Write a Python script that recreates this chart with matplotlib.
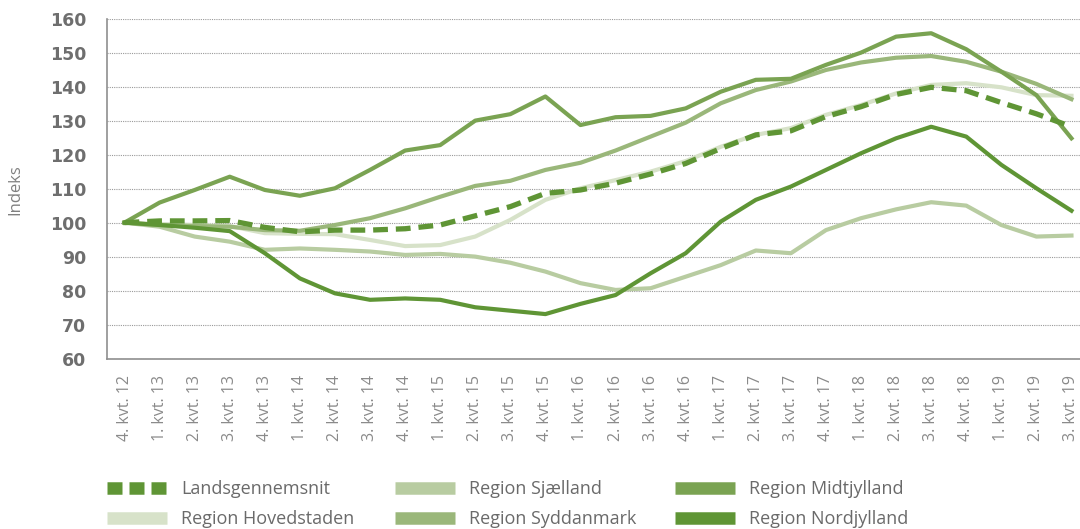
import matplotlib
matplotlib.use("Agg")
import matplotlib.pyplot as plt
from matplotlib.lines import Line2D

quarters = ["4. kvt. 12",
            "1. kvt. 13", "2. kvt. 13", "3. kvt. 13", "4. kvt. 13",
            "1. kvt. 14", "2. kvt. 14", "3. kvt. 14", "4. kvt. 14",
            "1. kvt. 15", "2. kvt. 15", "3. kvt. 15", "4. kvt. 15",
            "1. kvt. 16", "2. kvt. 16", "3. kvt. 16", "4. kvt. 16",
            "1. kvt. 17", "2. kvt. 17", "3. kvt. 17", "4. kvt. 17",
            "1. kvt. 18", "2. kvt. 18", "3. kvt. 18", "4. kvt. 18",
            "1. kvt. 19", "2. kvt. 19", "3. kvt. 19"]

landsgennemsnit = [100.2, 100.7, 100.7, 100.8, 98.8, 97.5, 98.0, 98.0, 98.4, 99.5,
                   102.2, 104.9, 108.8, 109.8, 111.8, 114.5, 117.6, 122.0, 126.0, 127.2,
                   131.4, 134.3, 137.9, 140.0, 139.0, 135.5, 132.2, 128.4]
hovedstaden = [100.2, 99.8, 99.5, 99.2, 97.1, 96.9, 96.8, 95.1, 93.3, 93.6,
               96.1, 101.0, 106.9, 110.3, 112.7, 115.2, 118.3, 122.5, 126.0, 128.0,
               131.9, 134.8, 138.2, 140.7, 141.2, 140.0, 137.7, 137.5]
sjaelland = [100.2, 99.0, 96.1, 94.6, 92.2, 92.6, 92.2, 91.7, 90.7, 91.0,
             90.2, 88.4, 85.8, 82.4, 80.4, 80.9, 84.3, 87.7, 92.0, 91.2,
             98.0, 101.5, 104.1, 106.2, 105.2, 99.5, 96.1, 96.4]
syddanmark = [100.2, 99.5, 99.2, 99.0, 98.0, 97.8, 99.5, 101.5, 104.4, 107.8,
              111.0, 112.5, 115.7, 117.8, 121.4, 125.5, 129.6, 135.3, 139.2, 141.7,
              145.1, 147.3, 148.7, 149.2, 147.5, 144.6, 141.0, 136.5]
midtjylland = [100.2, 106.1, 109.8, 113.7, 109.8, 108.1, 110.3, 115.7, 121.4, 123.0,
               130.2, 132.1, 137.3, 128.9, 131.2, 131.6, 133.8, 138.7, 142.2, 142.5,
               146.6, 150.2, 154.9, 155.9, 151.2, 144.6, 137.7, 125.0]
nordjylland = [100.2, 99.5, 98.7, 97.7, 91.2, 83.8, 79.4, 77.5, 77.9, 77.5,
               75.3, 74.3, 73.3, 76.3, 78.9, 85.3, 91.2, 100.5, 106.9, 110.8,
               115.7, 120.6, 125.0, 128.4, 125.5, 117.2, 110.3, 103.7]

yticks = [60, 70, 80, 90, 100, 110, 120, 130, 140, 150, 160]

c_lands = "#5f9535"
c_hoved = "#d7e2c9"
c_sjael = "#b8cca1"
c_sydd = "#9ab77a"
c_midt = "#7aa352"
c_nord = "#5f9535"

fig = plt.figure(figsize=(10.8, 5.29), dpi=100)
W, H = 1080, 529
left, right = 107, 1089
top, bottom = 19.3, 359.3
ax = fig.add_axes([left / W, 1 - bottom / H, (right - left) / W, (bottom - top) / H])

x = list(range(len(quarters)))
lw = 3.0
ax.plot(x, sjaelland, color=c_sjael, lw=lw, zorder=3)
ax.plot(x, hovedstaden, color=c_hoved, lw=lw, zorder=3)
ax.plot(x, syddanmark, color=c_sydd, lw=lw, zorder=3)
ax.plot(x, midtjylland, color=c_midt, lw=lw, zorder=3)
ax.plot(x, nordjylland, color=c_nord, lw=lw, zorder=3)
ax.plot(x, landsgennemsnit, color=c_lands, lw=3.8, dashes=(2.8, 1.5), dash_capstyle="butt", zorder=4)

ax.set_xlim(-0.5, len(quarters) - 0.5)
ax.set_ylim(60, 160)
ax.set_yticks(yticks)
ax.set_xticks(x)
ax.set_xticklabels(quarters, rotation=90, family="Open Sans", fontsize=11.5, color="#8a8a8a")
for lab in ax.get_yticklabels():
    lab.set_fontweight("bold")
    lab.set_fontsize(12.5)
    lab.set_color("#6e6e6e")
ax.tick_params(axis="both", length=0)
ax.tick_params(axis="y", pad=15)
ax.tick_params(axis="x", pad=11)
ax.grid(axis="y", linestyle=(0, (1, 1)), color="#9a9a9a", lw=0.8)
ax.set_axisbelow(True)
for s in ["top", "right"]:
    ax.spines[s].set_visible(False)
for s in ["left", "bottom"]:
    ax.spines[s].set_color("#8f8f8f")
    ax.spines[s].set_linewidth(1.2)
ax.set_ylabel("Indeks", family="Open Sans", fontsize=12, color="#808080")
ax.yaxis.set_label_coords(-84 / (right - left), 0.5)

handles = [
    Line2D([0], [0], color=c_lands, lw=9, dashes=(1.2, 0.56), dash_capstyle="butt"),
    Line2D([0], [0], color=c_hoved, lw=9, solid_capstyle="butt"),
    Line2D([0], [0], color=c_sjael, lw=9, solid_capstyle="butt"),
    Line2D([0], [0], color=c_sydd, lw=9, solid_capstyle="butt"),
    Line2D([0], [0], color=c_midt, lw=9, solid_capstyle="butt"),
    Line2D([0], [0], color=c_nord, lw=9, solid_capstyle="butt"),
]
labels = ["Landsgennemsnit", "Region Hovedstaden", "Region Sjælland",
          "Region Syddanmark", "Region Midtjylland", "Region Nordjylland"]
col_x = [107, 395, 675]
fs = 13
for i, cx in enumerate(col_x):
    leg = fig.legend(handles[2 * i:2 * i + 2], labels[2 * i:2 * i + 2], loc="upper left",
                     bbox_to_anchor=(cx / W, 1 - 480 / H), frameon=False,
                     borderpad=0, borderaxespad=0,
                     handlelength=60 / (fs * 100 / 72), handletextpad=14 / (fs * 100 / 72),
                     labelspacing=0.68, prop={"family": "Open Sans", "size": fs})
    for t in leg.get_texts():
        t.set_color("#6a6a6a")

fig.savefig("out.png", dpi=100)
